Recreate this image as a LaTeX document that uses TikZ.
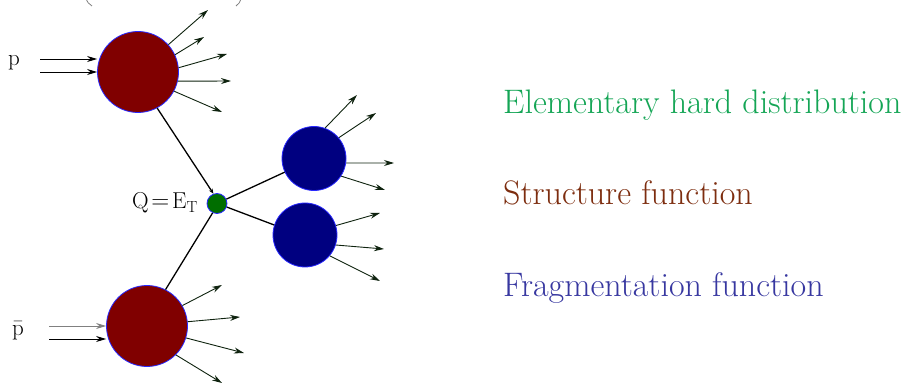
\documentclass[tikz,border=0pt]{standalone}
\usepackage{fontspec}
\usetikzlibrary{arrows.meta}
\definecolor{sfred}{RGB}{128,0,0}
\definecolor{ffblue}{RGB}{0,0,128}
\definecolor{hdgreen}{RGB}{0,110,0}
\definecolor{rimblue}{RGB}{40,40,255}
\definecolor{arrowc}{RGB}{15,35,15}
\definecolor{txtgreen}{RGB}{20,165,85}
\definecolor{txtbrown}{RGB}{125,45,15}
\definecolor{txtblue}{RGB}{55,55,160}
\begin{document}
\begin{tikzpicture}[x=1pt,y=-1pt,
  blob/.style={circle,draw=rimblue,line width=0.8pt,inner sep=0pt},
  outarr/.style={draw=arrowc,line width=0.9pt,-{Stealth[length=10pt,width=6pt]}},
  inarr/.style={draw=black,line width=0.9pt,-{Stealth[length=10pt,width=6pt]}},
  prop/.style={draw=black,line width=1.3pt},
  lbl/.style={font=\fontsize{23}{27}\selectfont,inner sep=0pt},
  legend/.style={font=\fontsize{34}{40}\selectfont,anchor=base west,inner sep=0pt}]
\useasboundingbox (0,0) rectangle (903,390);
% blobs
\node[blob,fill=sfred,minimum size=81pt] (sf1) at (138,72) {};
\node[blob,fill=sfred,minimum size=81pt] (sf2) at (147,326) {};
\node[blob,fill=hdgreen,minimum size=20pt] (hd) at (217,203.5) {};
\node[blob,fill=ffblue,minimum size=64pt] (ff1) at (314,158.5) {};
\node[blob,fill=ffblue,minimum size=64pt] (ff2) at (305,235) {};
% propagators
\draw[prop,-{Stealth[length=5pt,width=4pt]}] (sf1.-62) -- (hd.110);
\draw[prop] (sf2.63) -- (hd.-115);
\draw[prop] (hd.25) -- (ff1.205);
\draw[prop] (hd.-20) -- (ff2.162);
% labels
\node[lbl,anchor=base east] (q) at (198,209) {$\mathrm{Q}\!=\!\mathrm{E}_{\mathrm{T}}$};
\node[lbl,anchor=base] (p) at (14,66) {p};
\node[lbl,anchor=base] (pb) at (18,336) {$\bar{\mathrm{p}}$};
% incoming beams
\coordinate (pa1) at (40,59); \coordinate (pa2) at (40,72);
\coordinate (pb1) at (49,326); \coordinate (pb2) at (49,339);
\draw[inarr] (pa1) -- (pa1 -| sf1.west);
\draw[inarr] (pa2) -- (pa2 -| sf1.west);
\draw[inarr,draw=gray] (pb1) -- (pb1 -| sf2.west);
\draw[inarr] (pb2) -- (pb2 -| sf2.west);
% outgoing from top SF
\coordinate (t1) at (208,10); \coordinate (t2) at (204,37); \coordinate (t3) at (227,54);
\coordinate (t4) at (231,81); \coordinate (t5) at (222,112);
\draw[outarr] (sf1.42) -- (t1);
\draw[outarr] (sf1.25) -- (t2);
\draw[outarr] (sf1.6) -- (t3);
\draw[outarr] (sf1.-13) -- (t4);
\draw[outarr] (sf1.-28) -- (t5);
% outgoing from bottom SF
\coordinate (b1) at (222,285); \coordinate (b2) at (240,317); \coordinate (b3) at (244,353); \coordinate (b4) at (222,383);
\draw[outarr] (sf2.30) -- (b1);
\draw[outarr] (sf2.6) -- (b2);
\draw[outarr] (sf2.-17) -- (b3);
\draw[outarr] (sf2.-45) -- (b4);
% outgoing from FF1
\coordinate (f1) at (357,95); \coordinate (f2) at (376,113); \coordinate (f3) at (394,163); \coordinate (f4) at (385,190);
\draw[outarr] (ff1.70) -- (f1);
\draw[outarr] (ff1.40) -- (f2);
\draw[outarr] (ff1.-8) -- (f3);
\draw[outarr] (ff1.-33) -- (f4);
% outgoing from FF2
\coordinate (g1) at (380,213); \coordinate (g2) at (384,249); \coordinate (g3) at (380,281);
\draw[outarr] (ff2.17) -- (g1);
\draw[outarr] (ff2.-18) -- (g2);
\draw[outarr] (ff2.-40) -- (g3);
% cut-off brackets at top
\draw[gray,line width=0.8pt] (86,-1) .. controls (87,2) and (89,4) .. (92,6);
\draw[gray,line width=0.8pt] (241,-1) .. controls (240,2) and (239,4) .. (236,6);
% legend
\node[legend,text=txtgreen] (l1) at (503,114) {Elementary hard distribution};
\node[legend,text=txtbrown] (l2) at (503,205) {Structure function};
\node[legend,text=txtblue] (l3) at (503,297) {Fragmentation function};
\end{tikzpicture}
\end{document}
